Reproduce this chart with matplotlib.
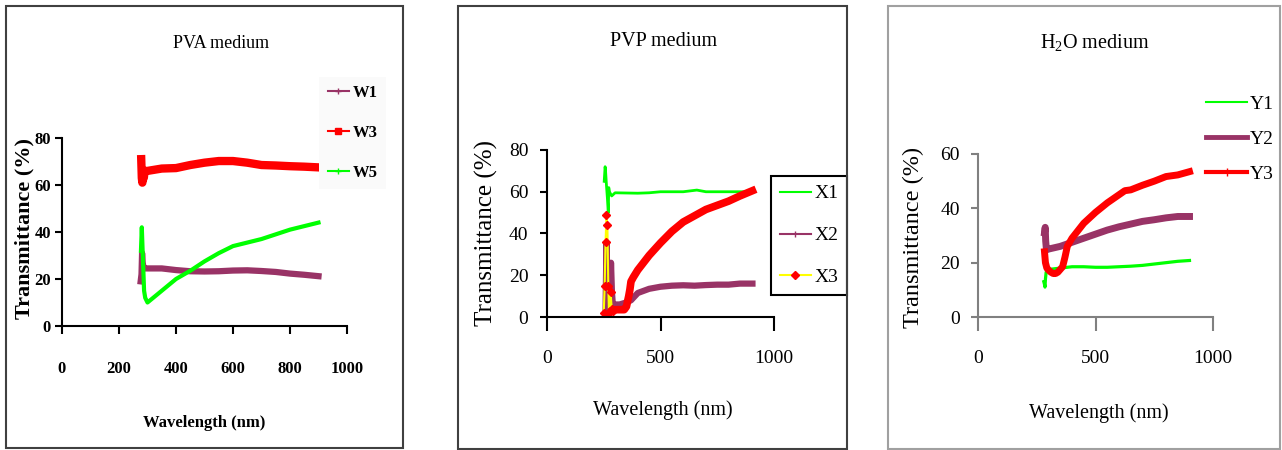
import matplotlib
matplotlib.use('Agg')
import matplotlib.pyplot as plt
from matplotlib.patches import Rectangle
from matplotlib.lines import Line2D

plt.rcParams['font.family'] = ['Liberation Serif', 'DejaVu Serif']
plt.rcParams['mathtext.fontset'] = 'custom'
plt.rcParams['mathtext.rm'] = 'Liberation Serif'

# ---------------- data ----------------
# PVA medium
w1_wl = [276, 279, 281, 283, 286, 290, 300, 350, 400, 450, 500, 550, 600, 650, 700, 750, 800, 850, 900]
w1_t = [19, 22, 31, 27, 25, 24.5, 24.5, 24.5, 23.8, 23.3, 23.2, 23.3, 23.6, 23.7, 23.4, 23.0, 22.3, 21.8, 21.2]
w3_wl = [278, 280, 282, 284, 287, 290, 300, 350, 400, 450, 500, 550, 600, 650, 700, 750, 800, 850, 900]
w3_t = [71, 63, 61, 66, 63, 66, 66, 67, 67.2, 68.5, 69.5, 70.2, 70.2, 69.5, 68.5, 68.3, 68.0, 67.8, 67.5]
w5_wl = [277, 280, 282, 285, 288, 292, 300, 320, 350, 400, 450, 500, 550, 600, 650, 700, 750, 800, 850, 900]
w5_t = [32, 42, 35, 25, 15, 12, 10, 12, 15, 20, 23.5, 27.5, 31, 34, 35.5, 37, 39, 41, 42.5, 44]

# PVP medium
x1_wl = [252, 256, 258, 262, 266, 270, 272, 275, 285, 300, 400, 450, 500, 600, 660, 700, 800, 905]
x1_t = [65, 72, 70, 63, 57, 50, 62, 60, 58, 59.5, 59.3, 59.5, 60, 60, 60.8, 60, 60, 60]
x2_wl = [258, 262, 266, 270, 274, 278, 282, 286, 290, 300, 320, 350, 370, 400, 450, 500, 550, 600, 650, 700, 750, 800, 850, 905]
x2_t = [3, 35, 20, 3, 8, 5, 26, 12, 6, 6, 6, 7, 8, 11.5, 13.5, 14.5, 15, 15.2, 15, 15.3, 15.5, 15.5, 16, 16]
x3_wl = [250, 254, 258, 262, 266, 270, 273, 276, 280, 285, 290, 300, 320, 340, 350, 360, 365, 370, 380, 400,
         450, 500, 550, 600, 650, 700, 750, 800, 850, 905]
x3_t = [2, 15, 36, 49, 44, 15, 2, 3, 12, 4, 3, 3.5, 3.5, 3.5, 5, 10, 13, 17, 19, 22.5,
        29.5, 35.5, 41, 45.5, 48.5, 51.5, 53.5, 55.5, 58, 60.5]

# H2O medium
y1_wl = [280, 283, 285, 287, 290, 295, 300, 350, 400, 450, 500, 550, 600, 650, 700, 750, 800, 850, 900]
y1_t = [13, 12, 11, 14, 16.5, 17, 17.5, 18, 18.5, 18.5, 18.3, 18.3, 18.5, 18.7, 19, 19.5, 20, 20.5, 20.8]
y2_wl = [283, 286, 288, 291, 295, 300, 350, 400, 450, 500, 550, 600, 650, 700, 750, 800, 850, 900]
y2_t = [31, 33, 28, 25, 24.8, 25, 26, 27.5, 29, 30.5, 32, 33.2, 34.2, 35.2, 35.8, 36.5, 37, 37]
y3_wl = [283, 287, 293, 300, 310, 320, 330, 340, 350, 360, 370, 380, 400, 450, 500, 550, 600, 625, 650, 700,
         750, 800, 850, 900]
y3_t = [24, 20, 18, 17.3, 16.5, 16, 16, 16.5, 17.5, 18.5, 22, 26, 29, 34.5, 38.5, 42, 45, 46.5, 46.8, 48.5,
        50, 51.7, 52.3, 53.5]

titles = ['PVA medium', 'PVP medium', 'H$_2$O medium']
xlabel = 'Wavelength (nm)'
ylabel = 'Transmittance (%)'

PURPLE = '#993366'
RED = '#ff0000'
GREEN = '#00ff00'
YELLOW = '#ffff00'

W, H = 1282, 450
fig = plt.figure(figsize=(W / 100, H / 100), dpi=100)


def box(x0, y0, x1, y1):
    return [x0 / W, 1 - y1 / H, (x1 - x0) / W, (y1 - y0) / H]


# panel frames
for (l, t, r, b, c) in [(6, 6, 403, 448, '#404040'), (458, 6, 847, 449, '#404040'),
                        (888, 6, 1280, 449, '#a0a0a0')]:
    fig.add_artist(Rectangle((l / W, 1 - b / H), (r - l) / W, (b - t) / H,
                             transform=fig.transFigure, fill=False, edgecolor=c, lw=1.5))

ax1 = fig.add_axes(box(62, 138, 347, 326))
ax2 = fig.add_axes(box(547, 150, 774, 317))
ax3 = fig.add_axes(box(978, 154, 1213, 317))


def style(ax, ymax, xticks, yticks, spine_color, tsize, ticklen_x, pad_x, pad_y, weight):
    ax.set_facecolor('none')
    ax.set_xlim(0, 1000)
    ax.set_ylim(0, ymax)
    ax.set_xticks(xticks)
    ax.set_yticks(yticks)
    for s in ['top', 'right']:
        ax.spines[s].set_visible(False)
    for s in ['left', 'bottom']:
        ax.spines[s].set_color(spine_color)
        ax.spines[s].set_linewidth(1.5)
    ax.tick_params(axis='x', direction='out', length=ticklen_x, width=1.5, color=spine_color,
                   pad=pad_x, labelsize=tsize)
    ax.tick_params(axis='y', direction='out', length=5, width=1.5, color=spine_color,
                   pad=pad_y, labelsize=tsize)
    for lab in ax.get_xticklabels() + ax.get_yticklabels():
        lab.set_fontweight(weight)


# ---------- panel 1 ----------
style(ax1, 80, [0, 200, 400, 600, 800, 1000], [0, 20, 40, 60, 80], 'black', 12, 6, 19, 3, 'bold')
ax1.plot(w1_wl, w1_t, color=PURPLE, lw=4.5)
ax1.plot(w3_wl, w3_t, color=RED, lw=6)
ax1.plot(w5_wl, w5_t, color=GREEN, lw=3)
ax1.set_xlabel(xlabel, fontsize=12, fontweight='bold')
ax1.xaxis.set_label_coords(0.50, -0.516)
ax1.xaxis.label.set_va('center')
ax1.set_ylabel(ylabel, fontsize=16, fontweight='bold')
ax1.yaxis.set_label_coords(-0.133, 0.52)
ax1.yaxis.label.set_va('center')
h1 = [Line2D([], [], color=PURPLE, lw=1.5, marker='+', ms=5),
      Line2D([], [], color=RED, lw=1.5, marker='s', ms=4),
      Line2D([], [], color=GREEN, lw=1.5, marker='+', ms=5)]
leg1 = ax1.legend(h1, ['W1', 'W3', 'W5'], loc='center', bbox_to_anchor=(352.5 / W, 1 - 133 / H),
                  bbox_transform=fig.transFigure, frameon=True, fancybox=False, facecolor='#fafafa',
                  edgecolor='none', framealpha=1, handlelength=1.3, handletextpad=0.2,
                  labelspacing=1.42, borderpad=0.5, prop={'size': 12, 'weight': 'bold'})

# ---------- panel 2 ----------
style(ax2, 80, [0, 500, 1000], [0, 20, 40, 60, 80], 'black', 14, 10, 14, 8.5, 'normal')
ax2.plot(x1_wl, x1_t, color=GREEN, lw=2)
ax2.plot(x2_wl, x2_t, color=PURPLE, lw=4.5)
ax2.plot(x3_wl, x3_t, color=YELLOW, lw=1.5)
ax2.plot(x3_wl[:11], x3_t[:11], linestyle='none', marker='D', color=RED, ms=4)
ax2.plot(x3_wl[10:], x3_t[10:], color=RED, lw=5.5)
ax2.set_xlabel(xlabel, fontsize=14.5)
ax2.xaxis.set_label_coords(0.509, -0.557)
ax2.xaxis.label.set_va('center')
ax2.set_ylabel(ylabel, fontsize=18)
ax2.yaxis.set_label_coords(-0.266, 0.5)
ax2.yaxis.label.set_va('center')
h2 = [Line2D([], [], color=GREEN, lw=1.5),
      Line2D([], [], color=PURPLE, lw=1.5, marker='|', ms=5),
      Line2D([], [], color=YELLOW, lw=1.5, marker='D', ms=4, markerfacecolor=RED, markeredgecolor=RED)]
leg2 = ax2.legend(h2, ['X1', 'X2', 'X3'], loc='center', bbox_to_anchor=(809 / W, 1 - 235.5 / H),
                  bbox_transform=fig.transFigure, frameon=True, fancybox=False, facecolor='white',
                  edgecolor='black', framealpha=1, handlelength=1.6, handletextpad=0.2,
                  labelspacing=1.25, borderpad=0.45, prop={'size': 14})
leg2.get_frame().set_linewidth(1.5)

# ---------- panel 3 ----------
style(ax3, 60, [0, 500, 1000], [0, 20, 40, 60], '#808080', 14, 10, 14, 8, 'normal')
ax3.tick_params(labelcolor='black')
ax3.plot(y1_wl, y1_t, color=GREEN, lw=2.3)
ax3.plot(y2_wl, y2_t, color=PURPLE, lw=5)
ax3.plot(y3_wl, y3_t, color=RED, lw=5)
ax3.set_xlabel(xlabel, fontsize=14.5)
ax3.xaxis.set_label_coords(0.512, -0.591)
ax3.xaxis.label.set_va('center')
ax3.set_ylabel(ylabel, fontsize=17.5)
ax3.yaxis.set_label_coords(-0.275, 0.49)
ax3.yaxis.label.set_va('center')
h3 = [Line2D([], [], color=GREEN, lw=1.5),
      Line2D([], [], color=PURPLE, lw=3.5),
      Line2D([], [], color=RED, lw=3, marker='|', ms=6)]
leg3 = ax3.legend(h3, ['Y1', 'Y2', 'Y3'], loc='center', bbox_to_anchor=(1240 / W, 1 - 139 / H),
                  bbox_transform=fig.transFigure, frameon=False, handlelength=2.1, handletextpad=0.15,
                  labelspacing=0.88, borderpad=0.2, prop={'size': 14})

# titles
fig.text(221 / W, 1 - 43 / H, titles[0], ha='center', va='center', fontsize=13)
fig.text(664 / W, 1 - 42 / H, titles[1], ha='center', va='center', fontsize=14.5)
fig.text(1095 / W, 1 - 43 / H, titles[2], ha='center', va='center', fontsize=14.5)

fig.savefig('out.png', dpi=100)
